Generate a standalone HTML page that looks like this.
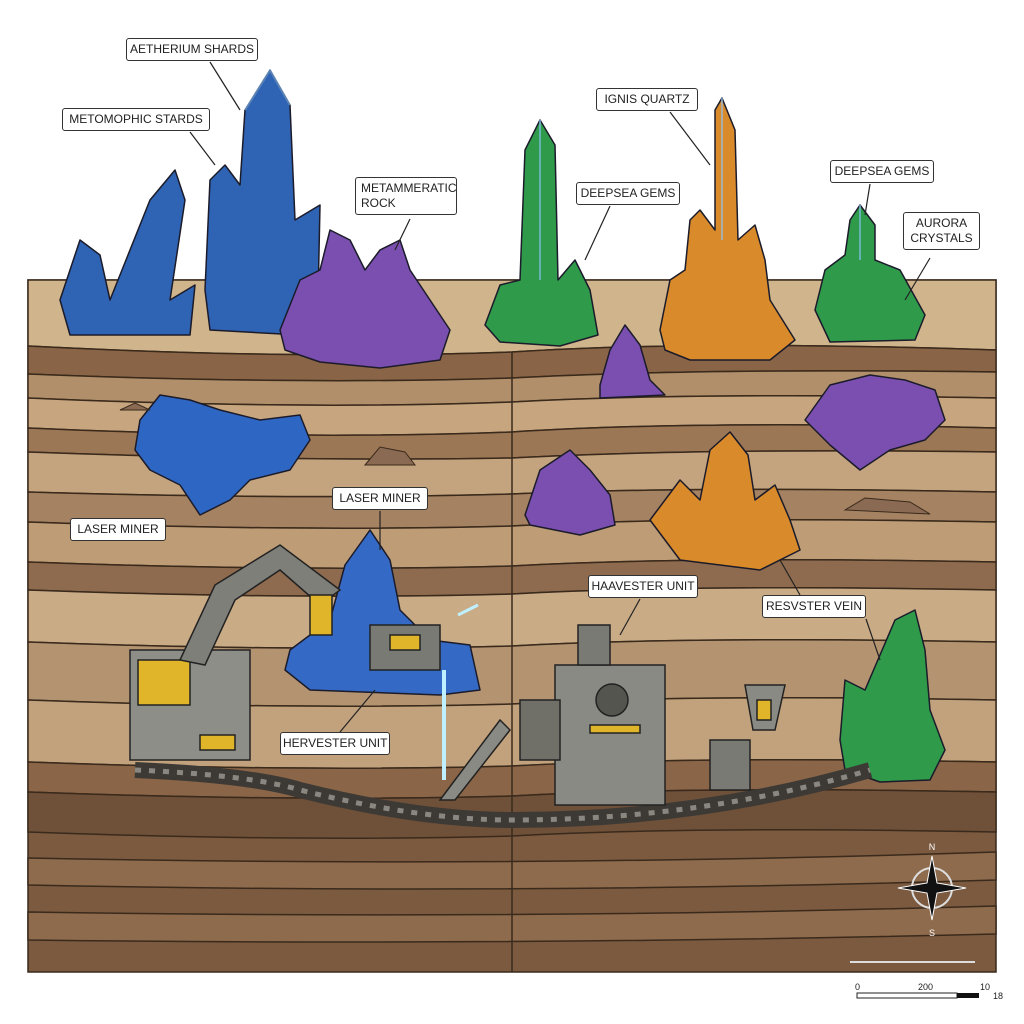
<!DOCTYPE html>
<html><head><meta charset="utf-8"><style>
body{margin:0;background:#fff;width:1024px;height:1024px;overflow:hidden}
.l{position:absolute;background:#fff;border:1.5px solid #333;border-radius:3px;font:12px "Liberation Sans",sans-serif;color:#222;text-align:center;line-height:15px;padding:3px 2px;box-sizing:border-box;white-space:nowrap;overflow:hidden}
</style></head><body>
<svg width="1024" height="1024" style="position:absolute;left:0;top:0">
<g stroke="#3a2a1c" stroke-width="1.5">
<rect x="28" y="280" width="968" height="692" fill="#7b5a40"/>
<path d="M28 280H996V350Q700 340 512 352Q300 360 28 346Z" fill="#cfb48c"/>
<path d="M28 346Q300 360 512 352Q700 340 996 350V372Q700 368 512 378Q300 385 28 374Z" fill="#8a6446"/>
<path d="M28 374Q300 385 512 378Q700 368 996 372V398Q700 392 512 402Q300 410 28 398Z" fill="#b08f6a"/>
<path d="M28 398Q300 410 512 402Q700 392 996 398V428Q700 420 512 432Q300 440 28 428Z" fill="#c6a57f"/>
<path d="M28 428Q300 440 512 432Q700 420 996 428V452Q700 448 512 458Q300 462 28 452Z" fill="#9c7756"/>
<path d="M28 452Q300 462 512 458Q700 448 996 452V492Q700 486 512 494Q300 500 28 492Z" fill="#c4a47e"/>
<path d="M28 492Q300 500 512 494Q700 486 996 492V522Q700 516 512 526Q300 532 28 522Z" fill="#a58262"/>
<path d="M28 522Q300 532 512 526Q700 516 996 522V562Q700 556 512 566Q300 572 28 562Z" fill="#bd9c76"/>
<path d="M28 562Q300 572 512 566Q700 556 996 562V590Q700 584 512 594Q300 600 28 590Z" fill="#8e6b4e"/>
<path d="M28 590Q300 600 512 594Q700 584 996 590V642Q700 636 512 646Q300 652 28 642Z" fill="#c9ab86"/>
<path d="M28 642Q300 652 512 646Q700 636 996 642V700Q700 694 512 704Q300 710 28 700Z" fill="#b49371"/>
<path d="M28 700Q300 710 512 704Q700 694 996 700V762Q700 756 512 766Q300 772 28 762Z" fill="#c2a27c"/>
<path d="M28 762Q300 772 512 766Q700 756 996 762V792Q700 786 512 796Q300 802 28 792Z" fill="#8a6547"/>
<path d="M28 792Q300 802 512 796Q700 786 996 792V832Q700 826 512 836Q300 842 28 832Z" fill="#6f5039"/>
<path d="M28 858Q512 868 996 852V880Q512 895 28 885Z" fill="#8f6b4d"/>
<path d="M28 912Q512 920 996 906V934Q512 946 28 940Z" fill="#8f6b4d"/>
<line x1="512" y1="352" x2="512" y2="972"/>
</g>
<g stroke="#1b1b2a" stroke-width="1.5" stroke-linejoin="round">
<g fill="#2f63b4"><polygon points="60,300 80,240 100,255 110,300 150,200 175,170 185,200 170,300 195,285 190,335 70,335"/>
<polygon points="205,290 210,180 225,165 240,185 245,110 270,70 290,105 295,220 320,205 318,300 300,335 210,330"/>
<polygon points="140,420 160,395 190,400 220,410 260,420 300,415 310,440 290,470 250,480 230,500 200,515 180,485 150,470 135,450" fill="#2e66c4"/>
<polygon points="290,650 330,620 345,565 370,530 390,560 400,610 430,640 470,645 480,690 440,695 310,690 285,670" fill="#3569c6"/></g>
<g fill="#7b4fb0"><polygon points="280,330 300,280 320,270 330,230 350,240 365,270 380,250 400,240 410,270 430,300 450,330 440,360 380,368 320,362 285,350"/>
<polygon points="600,385 610,350 625,325 640,345 650,380 665,395 600,398"/>
<polygon points="525,515 540,470 555,460 570,450 590,470 610,495 615,525 580,535 530,525"/>
<polygon points="805,420 830,385 870,375 905,380 935,390 945,420 925,440 890,450 860,470 830,445"/></g>
<g fill="#2e9a4a"><polygon points="485,325 500,285 520,280 525,150 540,120 555,145 558,280 575,260 590,290 598,335 560,346 500,342"/>
<polygon points="815,310 825,270 845,255 850,220 860,205 875,225 875,260 900,270 925,315 915,340 830,342"/>
<polygon points="840,740 845,680 865,690 895,620 915,610 925,650 930,710 945,750 930,780 880,782 845,770"/></g>
<g fill="#d98a2a"><polygon points="660,330 670,280 685,270 690,220 700,210 715,230 715,110 722,98 735,130 738,240 755,225 765,260 770,300 795,340 770,360 690,360 665,350"/>
<polygon points="650,520 680,480 700,500 710,450 730,432 748,455 755,500 775,485 790,520 800,550 760,570 680,560"/></g>
<path d="M245 110L270 70L290 105M540 120L540 280M722 98V240M860 205V260" fill="none" stroke="#8cc4ff" stroke-width="2" opacity=".6"/>
</g>
<g fill="#8a6a52" stroke="#3a2a1c"><path d="M365 465l15-18 25 5 10 13z"/><path d="M845 510l20-12 45 4 20 12z"/><path d="M120 410l15-7 15 7z"/></g>
<path d="M135 770Q250 775 300 790Q420 820 512 820Q700 820 870 770" fill="none" stroke="#3d3a36" stroke-width="16"/>
<path d="M135 770Q250 775 300 790Q420 820 512 820Q700 820 870 770" fill="none" stroke="#8a8780" stroke-width="5" stroke-dasharray="6 8"/>
<g stroke="#222" stroke-width="1.5">
<rect x="130" y="650" width="120" height="110" fill="#8e8e88"/>
<rect x="138" y="660" width="52" height="45" fill="#e0b52a"/>
<rect x="200" y="735" width="35" height="15" fill="#e0b52a"/>
<path d="M180 660L215 585L280 545L340 590L320 605L280 570L235 600L205 665Z" fill="#7f7f7a"/>
<rect x="310" y="595" width="22" height="40" fill="#e0b52a"/>
<rect x="370" y="625" width="70" height="45" fill="#7a7a74"/><rect x="390" y="635" width="30" height="15" fill="#e0b52a"/>
<rect x="555" y="665" width="110" height="140" fill="#8a8a84"/>
<rect x="520" y="700" width="40" height="60" fill="#707069"/>
<circle cx="612" cy="700" r="16" fill="#55554f"/>
<rect x="590" y="725" width="50" height="8" fill="#e0b52a"/>
<rect x="578" y="625" width="32" height="40" fill="#7a7a74"/>
<path d="M440 800L500 720L510 730L455 800Z" fill="#8a8a84"/>
<rect x="710" y="740" width="40" height="50" fill="#7a7a74"/>
<path d="M745 685h40l-10 45h-22z" fill="#8a8a84"/><rect x="757" y="700" width="14" height="20" fill="#e0b52a"/>
</g>
<line x1="444" y1="670" x2="444" y2="780" stroke="#bff0ff" stroke-width="4"/>
<line x1="458" y1="615" x2="478" y2="605" stroke="#bff0ff" stroke-width="3"/>
<g stroke="#222" stroke-width="1.2">
<line x1="210" y1="62" x2="240" y2="110"/><line x1="190" y1="132" x2="215" y2="165"/>
<line x1="410" y1="219" x2="395" y2="250"/><line x1="670" y1="112" x2="710" y2="165"/>
<line x1="610" y1="206" x2="585" y2="260"/><line x1="870" y1="184" x2="865" y2="215"/>
<line x1="930" y1="258" x2="905" y2="300"/><line x1="380" y1="511" x2="380" y2="550"/>
<line x1="640" y1="599" x2="620" y2="635"/><line x1="800" y1="595" x2="780" y2="560"/>
<line x1="866" y1="619" x2="880" y2="660"/><line x1="340" y1="732" x2="375" y2="690"/>
</g>
<g transform="translate(932,888)">
<circle r="20" fill="none" stroke="#ddd" stroke-width="2"/>
<polygon points="0,-32 5,-5 34,0 5,5 0,32 -5,5 -34,0 -5,-5" fill="#111" stroke="#fff"/>
<text y="-38" font-size="9" text-anchor="middle" fill="#fff" font-family="Liberation Sans">N</text>
<text y="48" font-size="9" text-anchor="middle" fill="#fff" font-family="Liberation Sans">S</text>
</g>
<line x1="850" y1="962" x2="975" y2="962" stroke="#ddd" stroke-width="2"/>
<rect x="857" y="993" width="100" height="5" fill="#fff" stroke="#222"/><rect x="957" y="993" width="22" height="5" fill="#111"/>
<g font-family="Liberation Sans" font-size="9" fill="#222"><text x="855" y="990">0</text><text x="918" y="990">200</text><text x="980" y="990">10</text><text x="993" y="999">18</text></g>
</svg>
<div class="l" style="left:126px;top:38px;width:132px">AETHERIUM SHARDS</div>
<div class="l" style="left:62px;top:108px;width:148px">METOMOPHIC STARDS</div>
<div class="l" style="left:355px;top:177px;width:102px;text-align:left;padding-left:5px">METAMMERATIC<br>ROCK</div>
<div class="l" style="left:596px;top:88px;width:102px">IGNIS QUARTZ</div>
<div class="l" style="left:576px;top:182px;width:104px">DEEPSEA GEMS</div>
<div class="l" style="left:830px;top:160px;width:104px">DEEPSEA GEMS</div>
<div class="l" style="left:903px;top:212px;width:77px">AURORA<br>CRYSTALS</div>
<div class="l" style="left:70px;top:518px;width:96px">LASER MINER</div>
<div class="l" style="left:332px;top:487px;width:96px">LASER MINER</div>
<div class="l" style="left:588px;top:575px;width:110px">HAAVESTER UNIT</div>
<div class="l" style="left:762px;top:595px;width:104px">RESVSTER VEIN</div>
<div class="l" style="left:280px;top:732px;width:110px">HERVESTER UNIT</div>
</body></html>
